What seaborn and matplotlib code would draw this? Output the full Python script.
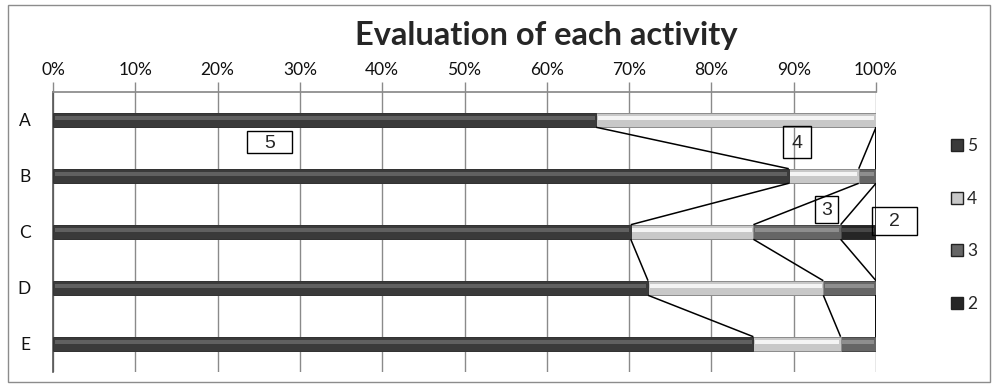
import numpy as np
import pandas as pd
import matplotlib
matplotlib.use("Agg")
import matplotlib.pyplot as plt
import seaborn as sns
from matplotlib.patches import Rectangle
from matplotlib.lines import Line2D

# --------------------------------------------------------------
# Data (share of answers per score, %)
# --------------------------------------------------------------
categories = ["A", "B", "C", "D", "E"]
score_5 = [66.0, 89.4, 70.2, 72.3, 85.1]
score_4 = [34.0, 8.5, 14.9, 21.3, 10.6]
score_3 = [0.0, 2.1, 10.6, 6.4, 4.3]
score_2 = [0.0, 0.0, 4.3, 0.0, 0.0]
series = ["5", "4", "3", "2"]
tick_values = list(range(0, 101, 10))

# --------------------------------------------------------------
# Style
# --------------------------------------------------------------
sns.set_theme(style="white")
plt.rcParams["font.family"] = ["Lato", "DejaVu Sans"]

base_col = {"5": "#3a3a3a", "4": "#c8c8c8", "3": "#666666", "2": "#262626"}
light_col = {"5": "#606060", "4": "#f4f4f4", "3": "#8e8e8e", "2": "#474747"}
edge_col = {"5": "#2a2a2a", "4": "#8e8e8e", "3": "#4a4a4a", "2": "#1a1a1a"}

df = pd.DataFrame({"category": categories, "5": score_5, "4": score_4,
                   "3": score_3, "2": score_2})
cum = df[series].cumsum(axis=1)
cum["category"] = categories

fig = plt.figure(figsize=(9.98, 3.85), dpi=100)
ax = fig.add_axes([53 / 998, 13 / 385, 823 / 998, 280 / 385])

BAR_H = 0.26
# stacked bars: draw cumulative totals from the back to the front
for s in reversed(series):
    sns.barplot(data=cum, x=s, y="category", orient="h", color=base_col[s],
                saturation=1, width=BAR_H, edgecolor=edge_col[s], linewidth=0.6,
                ax=ax, zorder=3)

# bevel highlight on each segment
ypos = np.arange(len(categories))
for s in series:
    vals = df[s].values
    left = cum[s].values - vals
    mask = vals > 0
    ax.barh(ypos[mask] - 0.035, vals[mask] - 0.4, left=left[mask] + 0.2,
            height=0.07, color=light_col[s], linewidth=0, zorder=4)

# series lines between bars
for s in series:
    c = cum[s].values
    for i in range(len(categories) - 1):
        ax.plot([c[i], c[i + 1]], [i + BAR_H / 2, i + 1 - BAR_H / 2],
                color="black", lw=1.1, zorder=5, solid_capstyle="butt")

# --------------------------------------------------------------
# Axes
# --------------------------------------------------------------
ax.set_xlim(0, 100)
ax.set_ylim(4.5, -0.5)
ax.xaxis.tick_top()
ax.set_xticks(tick_values)
ax.set_xticklabels([f"{v}%" for v in tick_values], fontsize=12.5, color="#111111")
ax.tick_params(axis="x", top=True, length=7, width=1, color="#8a8a8a", pad=3)
ax.tick_params(axis="y", length=0, pad=16, labelsize=12.5, labelcolor="#111111")
ax.set_xlabel("")
ax.set_ylabel("")
ax.grid(axis="x", color="#8a8a8a", lw=1)
ax.grid(axis="y", visible=False)
ax.set_axisbelow(True)
for side in ["right", "bottom"]:
    ax.spines[side].set_visible(False)
ax.spines["top"].set_color("#8a8a8a")
ax.spines["left"].set_color("#555555")
ax.spines["left"].set_linewidth(1.2)

# boxed series labels
boxes = [("5", 23.6, 0.20, 5.4, 0.39),
         ("4", 88.7, 0.11, 3.4, 0.57),
         ("3", 92.6, 1.36, 2.8, 0.48),
         ("2", 99.5, 1.55, 5.5, 0.50)]
for txt, x0, y0, w, h in boxes:
    ax.add_patch(Rectangle((x0, y0), w, h, fill=False, ec="black", lw=1,
                           clip_on=False, zorder=6))
    ax.text(x0 + w / 2, y0 + h / 2 + 0.02, txt, ha="center", va="center",
            fontsize=14, family=["Liberation Sans", "DejaVu Sans"], zorder=6,
            clip_on=False)

# legend
handles = [Line2D([], [], marker="s", ls="", markersize=8,
                  markerfacecolor=base_col[s], markeredgecolor="#222222")
           for s in series]
fig.legend(handles, series, loc="center left",
           bbox_to_anchor=(934 / 998, 160 / 385), frameon=False, fontsize=12.5,
           labelspacing=2.1, handletextpad=0.2, handlelength=0.8)

# title
fig.text(546 / 998, 350 / 385, "Evaluation of each activity", ha="center",
         va="center", fontsize=23.5, fontweight="bold")

# outer frame
fig.add_artist(Rectangle((8 / 998, 3 / 385), 982 / 998, 377 / 385,
                         transform=fig.transFigure, fill=False,
                         ec="#8c8c8c", lw=1))

fig.savefig("out.png", dpi=100)
